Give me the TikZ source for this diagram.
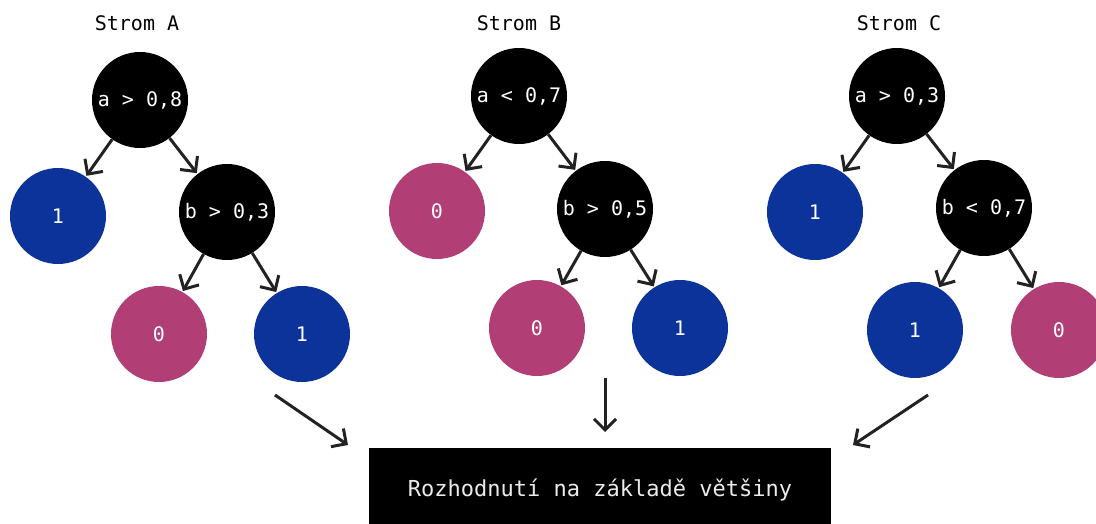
\documentclass[tikz,border=0pt]{standalone}
\usepackage{fontspec}
\setmainfont{DejaVu Sans Mono}
\usetikzlibrary{arrows.meta}
\definecolor{leafblue}{RGB}{11,51,153}
\definecolor{leafpink}{RGB}{177,62,117}
\definecolor{arrowc}{RGB}{34,34,34}
\begin{document}
\begin{tikzpicture}[x=1pt,y=-1pt,
  every node/.style={font=\fontsize{20}{24}\selectfont},
  dec/.style={circle,fill=black,text=white,minimum size=96pt,inner sep=0pt},
  one/.style={circle,fill=leafblue,text=white,minimum size=96pt,inner sep=0pt},
  zero/.style={circle,fill=leafpink,text=white,minimum size=96pt,inner sep=0pt},
  title/.style={text=black},
  arr/.style={draw=arrowc,line width=3pt,-{Straight Barb[length=11pt,width=22pt]},shorten >=1pt}]
\useasboundingbox (0,0) rectangle (1096,524);
% Tree A
\node[title] (tA) at (137,23) {Strom A};
\node[dec] (rA) at (140,100) {a > 0,8};
\node[one] (lA) at (58,216) {1};
\node[dec] (bA) at (227,212) {b > 0,3};
\node[zero] (l2A) at (159,334) {0};
\node[one] (r2A) at (302,334) {1};
\draw[arr] (rA) -- (lA);
\draw[arr] (rA) -- (bA);
\draw[arr] (bA) -- (l2A);
\draw[arr] (bA) -- (r2A);
% Tree B
\node[title] (tB) at (519,23) {Strom B};
\node[dec] (rB) at (519,96) {a < 0,7};
\node[zero] (lB) at (437,211) {0};
\node[dec] (bB) at (605,209) {b > 0,5};
\node[zero] (l2B) at (537,328) {0};
\node[one] (r2B) at (680,328) {1};
\draw[arr] (rB) -- (lB);
\draw[arr] (rB) -- (bB);
\draw[arr] (bB) -- (l2B);
\draw[arr] (bB) -- (r2B);
% Tree C
\node[title] (tC) at (899,23) {Strom C};
\node[dec] (rC) at (897,96) {a > 0,3};
\node[one] (lC) at (815,212) {1};
\node[dec] (bC) at (984,208) {b < 0,7};
\node[one] (l2C) at (915,330) {1};
\node[zero] (r2C) at (1059,330) {0};
\draw[arr] (rC) -- (lC);
\draw[arr] (rC) -- (bC);
\draw[arr] (bC) -- (l2C);
\draw[arr] (bC) -- (r2C);
% Decision box
\node[fill=black,text=white!92!black,minimum width=462pt,minimum height=84pt,inner sep=0pt,
  font=\fontsize{22}{26}\selectfont] (box) at (600,490) {Rozhodnutí na základě většiny};
\coordinate (sA) at (275,395);
\coordinate (eA) at (348,445);
\coordinate (sB) at (605,378);
\coordinate (eB) at (605,432);
\coordinate (sC) at (928,395);
\coordinate (eC) at (853,445);
\draw[arr,shorten >=0pt] (sA) -- (eA);
\draw[arr,shorten >=0pt] (sB) -- (eB);
\draw[arr,shorten >=0pt] (sC) -- (eC);
\end{tikzpicture}
\end{document}
